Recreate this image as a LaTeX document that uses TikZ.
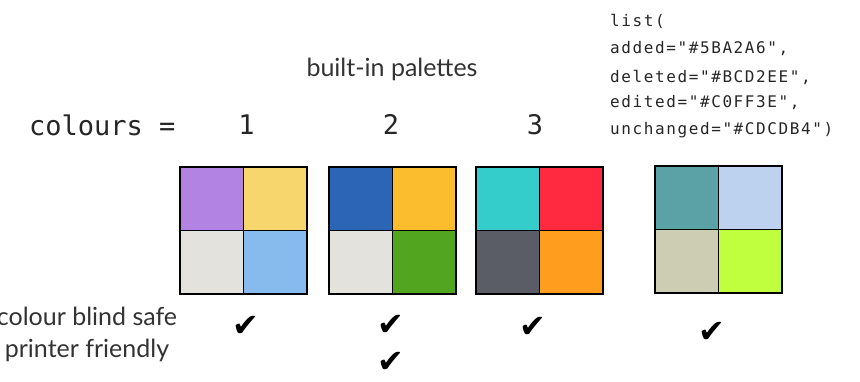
\documentclass[tikz,border=0pt]{standalone}
\usepackage{fontspec}
\setmainfont{Lato}
\newfontfamily\codefont{DejaVu Sans Mono}
\newfontfamily\listfont[LetterSpace=10]{DejaVu Sans Mono}
\newfontfamily\symfont{DejaVu Sans}

\definecolor{txt}{HTML}{333333}
% palette 1
\definecolor{pa}{HTML}{B383E3}
\definecolor{pb}{HTML}{F8D66E}
\definecolor{pc}{HTML}{E4E2DD}
\definecolor{pd}{HTML}{88BBED}
% palette 2
\definecolor{qa}{HTML}{2C65B5}
\definecolor{qb}{HTML}{FBBC2E}
\definecolor{qc}{HTML}{E4E2DD}
\definecolor{qd}{HTML}{52A51F}
% palette 3
\definecolor{ra}{HTML}{35CCCC}
\definecolor{rb}{HTML}{FF2A40}
\definecolor{rc}{HTML}{5A5D66}
\definecolor{rd}{HTML}{FF9E1E}
% custom list
\definecolor{sa}{HTML}{5BA2A6}
\definecolor{sb}{HTML}{BCD2EE}
\definecolor{sc}{HTML}{CDCDB4}
\definecolor{sd}{HTML}{C0FF3E}

\tikzset{
  cell/.style={draw=black, line width=1.2pt, minimum size=63.5pt, inner sep=0pt, outer sep=0pt, anchor=north west},
  label/.style={font=\fontsize{25}{30}\selectfont, text=txt, inner sep=0pt, anchor=base},
  code/.style={font=\codefont\fontsize{27}{32}\selectfont, text=black!85, inner sep=0pt, anchor=base},
  listline/.style={font=\listfont\fontsize{16}{18}\selectfont, text=black!85, inner sep=0pt, anchor=base west},
  tick/.style={font=\symfont\fontsize{32}{36}\selectfont, inner sep=0pt}
}

\newcommand{\palettegrid}[7]{%
  \node[cell, fill=#4] (#1a) at (#2,#3) {};
  \node[cell, fill=#5] (#1b) at (#2+63.5,#3) {};
  \node[cell, fill=#6] (#1c) at (#2,#3+63.5) {};
  \node[cell, fill=#7] (#1d) at (#2+63.5,#3+63.5) {};
}

\begin{document}
\begin{tikzpicture}[x=1pt, y=-1pt]
\useasboundingbox (0,0) rectangle (860,382);

\node[label] (title) at (392,77) {built-in palettes};

\node[code, anchor=base west] (colours) at (29,136) {colours =};
\node[code] (n1) at (246.5,135) {1};
\node[code] (n2) at (391,135) {2};
\node[code] (n3) at (535,135) {3};

\node[listline] (l1) at (610,27) {list(};
\node[listline] (l2) at (610,54) {added="\#5BA2A6",};
\node[listline] (l3) at (610,83) {deleted="\#BCD2EE",};
\node[listline] (l4) at (610,108) {edited="\#C0FF3E",};
\node[listline] (l5) at (610,135) {unchanged="\#CDCDB4")};

\palettegrid{g1}{180}{167}{pa}{pb}{pc}{pd}
\palettegrid{g2}{329}{167}{qa}{qb}{qc}{qd}
\palettegrid{g3}{476}{167}{ra}{rb}{rc}{rd}
\palettegrid{g4}{655}{166}{sa}{sb}{sc}{sd}

\node[label] (cbs) at (87,326) {colour blind safe};
\node[label] (pf) at (87,357) {printer friendly};

\node[tick] (t1) at (245.5,326) {✔};
\node[tick] (t2) at (391,325) {✔};
\node[tick] (t3) at (533,327) {✔};
\node[tick] (t4) at (712,332) {✔};
\node[tick] (t5) at (391,362) {✔};
\end{tikzpicture}
\end{document}
